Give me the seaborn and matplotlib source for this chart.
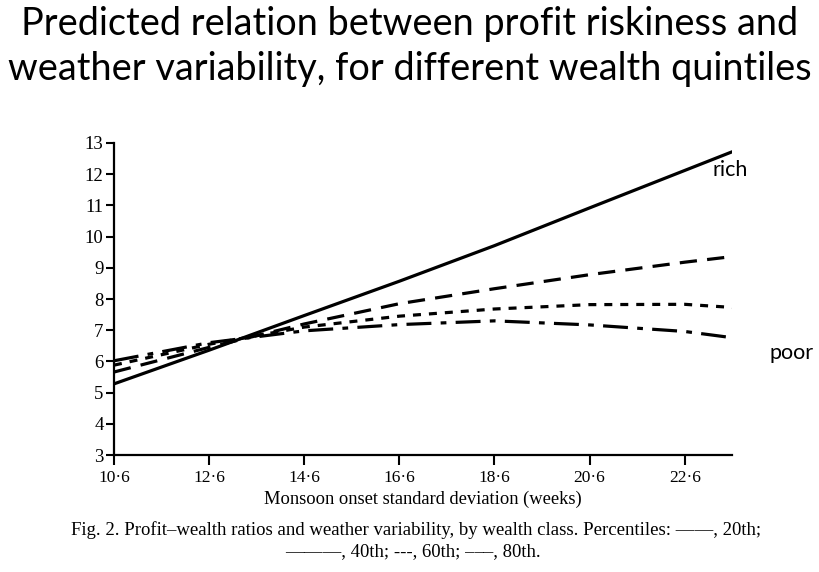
import pandas as pd
import matplotlib.pyplot as plt
import seaborn as sns

# valores (semanas, ratio beneficio/riqueza)
semanas = [10.6, 12.6, 14.6, 16.6, 18.6, 20.6, 22.6, 23.6]
rico = [5.28, 6.36, 7.47, 8.57, 9.71, 10.92, 12.12, 12.72]
q_60 = [5.66, 6.45, 7.20, 7.85, 8.33, 8.78, 9.18, 9.36]
q_40 = [5.88, 6.55, 7.10, 7.45, 7.68, 7.82, 7.83, 7.73]
pobre = [6.02, 6.60, 6.98, 7.18, 7.30, 7.17, 6.96, 6.76]

xticks = [10.6, 12.6, 14.6, 16.6, 18.6, 20.6, 22.6]
xtick_labels = ["10·6", "12·6", "14·6", "16·6", "18·6", "20·6", "22·6"]
yticks = list(range(3, 14))

series = {"rico": rico, "q60": q_60, "q40": q_40, "pobre": pobre}
df = pd.concat(
    [pd.DataFrame({"semanas": semanas, "ratio": v, "grupo": k}) for k, v in series.items()]
)

sns.set_theme(style="ticks")
plt.rcParams["font.family"] = ["Liberation Serif", "DejaVu Serif"]

fig = plt.figure(figsize=(8.2, 5.72), dpi=100)
ax = fig.add_axes([0.139, 0.2045, 0.754, 0.5455])

sns.lineplot(
    data=df, x="semanas", y="ratio", style="grupo", color="black",
    dashes={"rico": "", "q60": (5.4, 3.2), "q40": (2.5, 2.5), "pobre": (7.8, 2.9, 1.8, 2.9)},
    linewidth=2.3, legend=False, ax=ax,
)

ax.set_xlim(10.6, 23.6)
ax.set_ylim(3, 13)
ax.set_xticks(xticks)
ax.set_xticklabels(xtick_labels)
ax.set_yticks(yticks)
ax.tick_params(axis="both", width=1.5, color="black", labelcolor="black")
ax.tick_params(axis="y", length=5.5, pad=2, labelsize=13.5)
ax.tick_params(axis="x", length=7, pad=4, labelsize=12.5)
for s in ["left", "bottom"]:
    ax.spines[s].set_linewidth(1.6)
    ax.spines[s].set_color("black")
sns.despine(ax=ax)
ax.set_xlabel("Monsoon onset standard deviation (weeks)", fontsize=13.3, color="black", labelpad=3)
ax.set_ylabel("")

# título de la diapositiva
titulo = dict(fontsize=27.3, family=["Lato", "DejaVu Sans"], color="black", ha="center", va="baseline")
fig.text(0.5, 1 - 35 / 572, "Predicted relation between profit riskiness and", **titulo)
fig.text(0.5, 1 - 80 / 572, "weather variability, for different wealth quintiles", **titulo)

# etiquetas rich / poor
etq = dict(fontsize=15.5, family=["Lato", "DejaVu Sans"], color="black", va="center")
fig.text(713 / 820, 1 - 170 / 572, "rich", **etq)
fig.text(770 / 820, 1 - 353 / 572, "poor", **etq)

# pie de figura
pie = dict(fontsize=13.5, color="black", ha="center", va="center")
fig.text(416 / 820, 1 - 530 / 572,
         "Fig. 2. Profit–wealth ratios and weather variability, by wealth class. Percentiles: ——, 20th;", **pie)
fig.text(413 / 820, 1 - 552 / 572, "———, 40th; ---, 60th; –––, 80th.", **pie)

fig.savefig("out.png", dpi=100)
